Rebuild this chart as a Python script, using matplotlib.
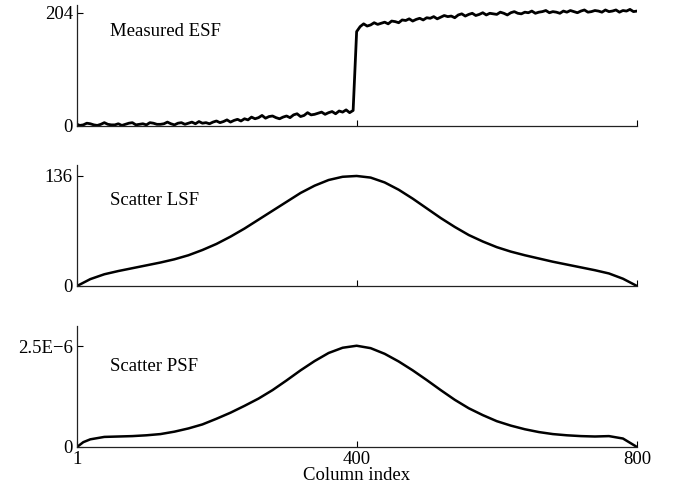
import numpy as np
import matplotlib
matplotlib.use("Agg")
import matplotlib.pyplot as plt

plt.rcParams['font.family'] = ['Liberation Serif', 'DejaVu Serif']
plt.rcParams['font.size'] = 13.5

esf_cols = [1] + list(range(5, 801, 5))
esf = [3, 1, 2, 5, 4, 2, 1, 3, 6, 3,
       2, 2, 4, 1, 3, 5, 6, 2, 3, 4,
       2, 6, 5, 3, 3, 4, 7, 4, 2, 5,
       6, 3, 5, 7, 4, 8, 5, 6, 4, 7,
       9, 6, 8, 11, 7, 10, 12, 9, 13, 11,
       16, 13, 15, 19, 14, 17, 18, 15, 13, 16,
       18, 15, 20, 22, 17, 19, 24, 20, 21, 23,
       25, 21, 24, 26, 22, 27, 25, 29, 24, 28,
       170, 179, 184, 180, 182, 186, 183, 185, 187, 184,
       189, 188, 186, 191, 190, 193, 189, 192, 194, 191,
       195, 194, 197, 193, 196, 199, 197, 198, 195, 200,
       202, 198, 201, 203, 199, 201, 204, 200, 203, 202,
       201, 205, 203, 200, 204, 206, 203, 202, 205, 204,
       207, 203, 205, 206, 208, 204, 206, 205, 203, 207,
       205, 208, 206, 204, 207, 209, 205, 206, 208, 207,
       205, 209, 206, 207, 209, 205, 208, 207, 210, 206,
       207]

# Scatter LSF, every 20 columns
lsf_cols = [1] + list(range(20, 801, 20))
lsf = [0, 8.5, 14.5, 18.5, 22, 25.5, 29, 33, 38, 44.5, 52,
       61, 71, 82, 93, 104, 115, 124, 131, 135, 136,
       134, 128, 119, 108, 96, 84, 73, 63, 55, 48,
       42.5, 38, 34, 30, 26.5, 23, 19.5, 15.5, 9, 0]

# Scatter PSF (x1e-6), every 20 columns
psf_cols = [1, 10] + list(range(20, 801, 20))
psf = [0, 0.12, 0.19, 0.25, 0.26, 0.27, 0.29, 0.32, 0.38, 0.46, 0.56,
       0.70, 0.85, 1.02, 1.20, 1.41, 1.65, 1.90, 2.13, 2.33, 2.46,
       2.51, 2.45, 2.31, 2.12, 1.90, 1.66, 1.41, 1.17, 0.96, 0.79,
       0.64, 0.53, 0.44, 0.37, 0.32, 0.29, 0.27, 0.26, 0.27, 0.21, 0]
psf = np.array(psf) * 1e-6

panels = [
    (esf_cols, esf, 218, [0, 204], ['0', '204'], 'Measured ESF', 0.777),
    (lsf_cols, lsf, 149.6, [0, 136], ['0', '136'], 'Scatter LSF', 0.71),
    (psf_cols, psf, 3.0e-6, [0, 2.5e-6], ['0', '2.5E\u22126'], 'Scatter PSF', 0.664),
]
bottoms = [0.746, 0.4234, 0.0988]

fig = plt.figure(figsize=(6.79, 4.96), dpi=100)
for i, (x, y, ytop, yt, ytl, name, ty) in enumerate(panels):
    ax = fig.add_axes([0.1134, bottoms[i], 0.8247, 0.244])
    ax.plot(x, y, color='black', lw=2.0 if i == 0 else 1.8,
            solid_joinstyle='round')
    ax.set_xlim(1, 800)
    ax.set_ylim(0, ytop)
    ax.spines['top'].set_visible(False)
    ax.spines['right'].set_visible(False)
    for s in ['left', 'bottom']:
        ax.spines[s].set_linewidth(0.9)
        ax.spines[s].set_color('#222222')
    ax.set_yticks(yt)
    ax.set_yticklabels(ytl)
    ax.set_xticks([1, 400, 800])
    ax.tick_params(direction='in', length=4, width=0.8, pad=3)
    if i < 2:
        ax.set_xticklabels([])
    else:
        ax.set_xticklabels(['1', '400', '800'])
        ax.set_xlabel('Column index', labelpad=-1)
    ax.text(0.059, ty, name, transform=ax.transAxes, va='center', ha='left')

fig.savefig('out.png', dpi=100)
